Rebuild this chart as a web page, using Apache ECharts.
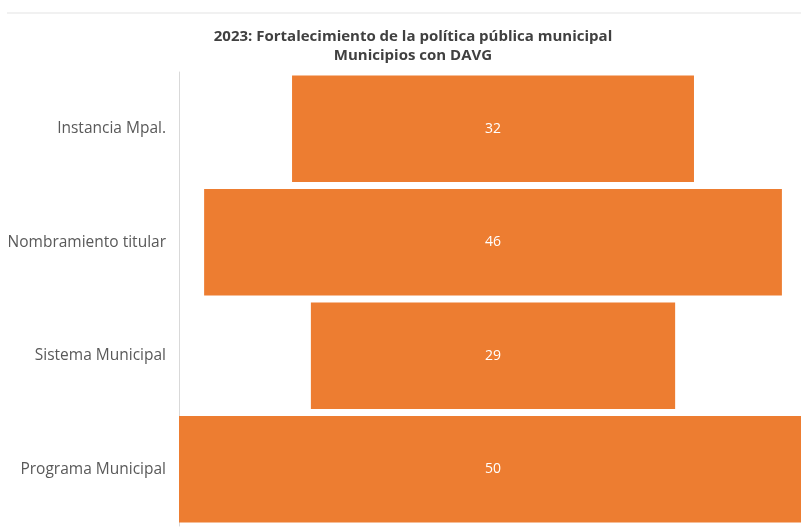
<!DOCTYPE html>
<html>
<head>
<meta charset="utf-8">
<script src="https://cdn.jsdelivr.net/npm/echarts@6/dist/echarts.min.js"></script>
<style>
html,body{margin:0;padding:0;background:#fff;}
#c{width:801px;height:531px;}
</style>
</head>
<body>
<div id="c"></div>
<script>
var categories = ['Instancia Mpal.', 'Nombramiento titular', 'Sistema Municipal', 'Programa Municipal'];
var values = [32, 46, 29, 50];
var maxValue = 50;

var offsets = values.map(function (v) { return (maxValue - v) / 2; });

var chart = echarts.init(document.getElementById('c'));
chart.setOption({
  animation: false,
  textStyle: { fontFamily: 'Open Sans' },
  title: {
    text: '2023: Fortalecimiento de la política pública municipal\nMunicipios con DAVG',
    left: 408,
    textAlign: 'center',
    top: 22,
    textStyle: { fontSize: 15, fontWeight: 'bold', color: '#404040', lineHeight: 19, fontFamily: 'Open Sans' }
  },
  graphic: [{
    type: 'line',
    shape: { x1: 7, y1: 13, x2: 801, y2: 13 },
    style: { stroke: '#e3e3e3', lineWidth: 1 }
  }],
  grid: { left: 179, right: 0, top: 72, bottom: 5 },
  xAxis: {
    type: 'value', min: 0, max: 49.52, show: false
  },
  yAxis: {
    type: 'category',
    data: categories,
    inverse: true,
    axisLine: { show: true, lineStyle: { color: '#d9d9d9', width: 1 } },
    axisTick: { show: false },
    axisLabel: { color: '#595959', fontSize: 15.5, margin: 13, fontFamily: 'Open Sans' }
  },
  series: [{
    type: 'bar',
    stack: 'f',
    data: offsets,
    itemStyle: { color: 'transparent' },
    barCategoryGap: '6%',
    clip: false,
    silent: true
  }, {
    type: 'bar',
    stack: 'f',
    data: values,
    barCategoryGap: '6%',
    clip: false,
    itemStyle: { color: '#ED7D31' },
    label: { show: true, position: 'inside', color: '#ffffff', fontSize: 14, fontFamily: 'Open Sans' }
  }]
});
</script>
</body>
</html>
